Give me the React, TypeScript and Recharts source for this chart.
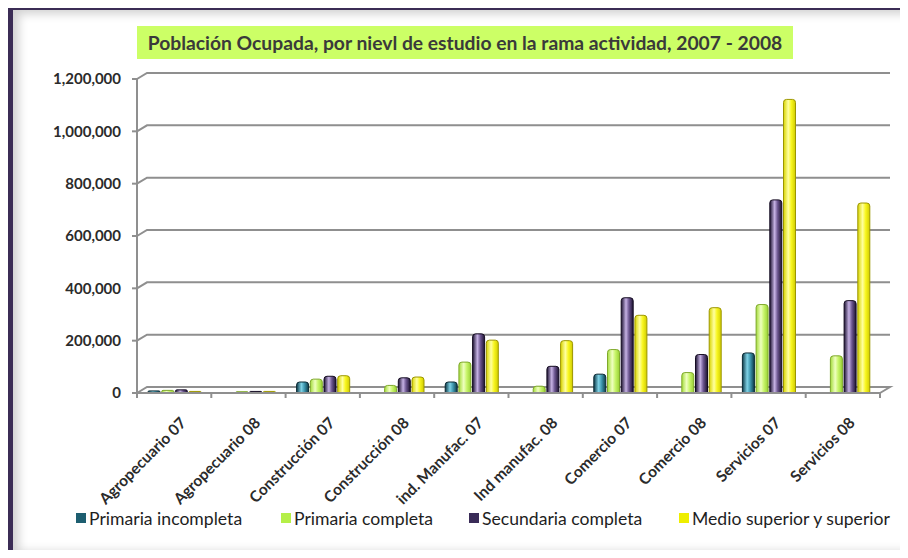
import React from 'react';
import { BarChart, Bar, XAxis, YAxis, CartesianGrid } from 'recharts';

const categories = [
  'Agropecuario 07',
  'Agropecuario 08',
  'Construcción 07',
  'Construcción 08',
  'ind. Manufac. 07',
  'Ind manufac. 08',
  'Comercio 07',
  'Comercio 08',
  'Servicios 07',
  'Servicios 08',
];

const primariaIncompleta = [8000, 0, 42000, 0, 42000, 0, 72000, 0, 153000, 0];
const primariaCompleta = [10000, 5000, 53000, 29000, 118000, 26000, 166000, 78000, 338000, 142000];
const secundariaCompleta = [12000, 6000, 64000, 58000, 226000, 102000, 364000, 147000, 738000, 353000];
const medioSuperior = [6000, 6000, 66000, 61000, 202000, 200000, 297000, 326000, 1122000, 726000];

const yTicks = [0, 200000, 400000, 600000, 800000, 1000000, 1200000];

const seriesNames = [
  'Primaria incompleta',
  'Primaria completa',
  'Secundaria completa',
  'Medio superior y superior',
];

const data = categories.map((c, i) => ({
  name: c,
  pi: primariaIncompleta[i],
  pc: primariaCompleta[i],
  sc: secundariaCompleta[i],
  ms: medioSuperior[i],
}));

const seriesDefs = [
  { key: 'pi', name: seriesNames[0], color: '#1d5e70', grad: 'gTeal', stroke: '#0b2a34' },
  { key: 'pc', name: seriesNames[1], color: '#b5ef48', grad: 'gGreen', stroke: '#7fa82c' },
  { key: 'sc', name: seriesNames[2], color: '#3a2c58', grad: 'gPurple', stroke: '#150c22' },
  { key: 'ms', name: seriesNames[3], color: '#eeee00', grad: 'gYellow', stroke: '#9c9600' },
];

const legendLeft = [76, 281, 469, 679];

const FONT = 'Lato, "DejaVu Sans", sans-serif';
const GRID = '#8f8f8f';

const fmt = (v: number) => v.toLocaleString('en-US');

const XTick = (props: any) => {
  const { x, y, payload, index, visibleTicksCount } = props;
  const off = payload && payload.offset ? payload.offset : 37;
  const isLast = index === visibleTicksCount - 1;
  const ax = x + 13;
  const ay = y + 31;
  return (
    <g>
      <line x1={x - off} y1={y} x2={x - off} y2={y + 5} stroke={GRID} strokeWidth={2} />
      {isLast && <line x1={x + off} y1={y} x2={x + off} y2={y + 5} stroke={GRID} strokeWidth={2} />}
      <text
        x={ax}
        y={ay}
        textAnchor="end"
        transform={`rotate(-45 ${ax} ${ay})`}
        fontFamily={FONT}
        fontWeight={700}
        fontSize={15.5}
        fill="#2b2b2b"
      >
        {payload.value}
      </text>
    </g>
  );
};

const GridLine = (props: any) => {
  const { x1, y1, x2, index } = props;
  const dx = 10;
  const dy = 6;
  const d =
    index === 0
      ? `M ${x1} ${y1} L ${x1 + dx} ${y1 - dy} L ${x2 + dx} ${y1 - dy} L ${x2} ${y1}`
      : `M ${x1} ${y1} L ${x1 + dx} ${y1 - dy} L ${x2 + dx} ${y1 - dy}`;
  return <path key={props.key} d={d} fill="none" stroke={GRID} strokeWidth={2} />;
};

const Legend = () => (
  <div
    style={{
      position: 'absolute',
      left: 0,
      top: 506,
      width: 908,
      height: 24,
      fontFamily: FONT,
      fontSize: 17.6,
      color: '#1e1e1e',
      whiteSpace: 'nowrap',
    }}
  >
    {seriesDefs.map((s, i) => (
      <div
        key={s.key}
        style={{
          position: 'absolute',
          left: legendLeft[i],
          top: 0,
          height: 24,
          display: 'flex',
          alignItems: 'center',
        }}
      >
        <span
          style={{
            display: 'inline-block',
            width: 10,
            height: 10,
            background: s.color,
            marginRight: 3,
          }}
        />
        <span>{s.name}</span>
      </div>
    ))}
  </div>
);

export default function App() {
  return (
    <div
      style={{
        position: 'relative',
        width: 908,
        height: 558,
        margin: -8,
        background: '#ffffff',
        overflow: 'hidden',
      }}
    >
      <div
        style={{
          position: 'absolute',
          left: 8,
          top: 6,
          width: 910,
          height: 552,
          boxSizing: 'border-box',
          borderTop: '4px solid #3b2c55',
          borderLeft: '5px solid #3b2c55',
          borderBottom: '3px solid #3b2c55',
          background: '#ffffff',
          boxShadow:
            'inset 12px 10px 10px -6px #d2d2d2, inset 0 -12px 10px -8px #d6d6d6',
        }}
      />
      <div
        style={{
          position: 'absolute',
          left: 137,
          top: 26,
          width: 656,
          height: 33,
          background: '#ccff66',
        }}
      />
      <div
        style={{
          position: 'absolute',
          left: 137,
          top: 26,
          width: 656,
          height: 33,
          lineHeight: '33px',
          textAlign: 'center',
          fontFamily: FONT,
          fontWeight: 700,
          fontSize: 19.3,
          color: '#3a3a3a',
          whiteSpace: 'nowrap',
        }}
      >
        Población Ocupada, por nievl de estudio en la rama actividad, 2007 - 2008
      </div>
      <div style={{ position: 'absolute', left: 0, top: 0 }}>
        <BarChart
          width={908}
          height={558}
          data={data}
          margin={{ top: 79, right: 28, bottom: 25, left: 0 }}
          barSize={12}
          barGap={1.7}
        >
          <defs>
            <linearGradient id="gTeal" x1="0" y1="0" x2="1" y2="0">
              <stop offset="0%" stopColor="#0e3a48" />
              <stop offset="40%" stopColor="#7fd2e6" />
              <stop offset="65%" stopColor="#3e98b0" />
              <stop offset="100%" stopColor="#0e3a48" />
            </linearGradient>
            <linearGradient id="gGreen" x1="0" y1="0" x2="1" y2="0">
              <stop offset="0%" stopColor="#a3dc3a" />
              <stop offset="40%" stopColor="#efffc0" />
              <stop offset="65%" stopColor="#c8f56a" />
              <stop offset="100%" stopColor="#98d034" />
            </linearGradient>
            <linearGradient id="gPurple" x1="0" y1="0" x2="1" y2="0">
              <stop offset="0%" stopColor="#1c1230" />
              <stop offset="40%" stopColor="#c6b2e4" />
              <stop offset="65%" stopColor="#6c5690" />
              <stop offset="100%" stopColor="#1c1230" />
            </linearGradient>
            <linearGradient id="gYellow" x1="0" y1="0" x2="1" y2="0">
              <stop offset="0%" stopColor="#d8d400" />
              <stop offset="40%" stopColor="#ffffa0" />
              <stop offset="65%" stopColor="#f8f620" />
              <stop offset="100%" stopColor="#d0cc00" />
            </linearGradient>
          </defs>
          <CartesianGrid vertical={false} horizontal={GridLine} />
          <XAxis
            dataKey="name"
            interval={0}
            height={140}
            tickLine={false}
            tickSize={0}
            tickMargin={0}
            axisLine={{ stroke: GRID, strokeWidth: 2 }}
            tick={<XTick />}
          />
          <YAxis
            width={137}
            domain={[0, 1200000]}
            ticks={yTicks}
            interval={0}
            tickFormatter={fmt}
            tickSize={5}
            tickMargin={11}
            axisLine={{ stroke: GRID, strokeWidth: 2 }}
            tickLine={{ stroke: GRID, strokeWidth: 2 }}
            tick={{ fontFamily: FONT, fontWeight: 700, fontSize: 15, fill: '#2b2b2b' }}
          />
          {seriesDefs.map((s) => (
            <Bar
              key={s.key}
              dataKey={s.key}
              name={s.name}
              fill={`url(#${s.grad})`}
              stroke={s.stroke}
              strokeWidth={1}
              radius={[3, 3, 0, 0]}
              isAnimationActive={false}
            />
          ))}
        </BarChart>
      </div>
      <Legend />
    </div>
  );
}
